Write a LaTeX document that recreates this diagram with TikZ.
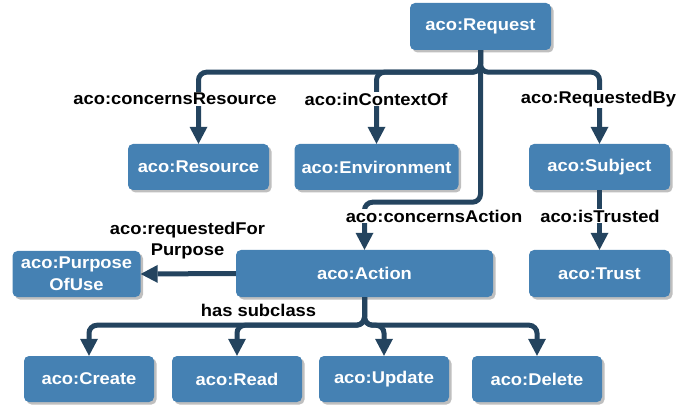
\documentclass[tikz,border=0pt]{standalone}
\usepackage{fontspec}
\setmainfont{Liberation Sans}[FakeStretch=1.08]
\usetikzlibrary{arrows.meta,shadows}
\definecolor{boxblue}{HTML}{4581B3}
\definecolor{arrowdark}{HTML}{24445F}
\begin{document}
\begin{tikzpicture}[x=1pt,y=-1pt,
  box/.style={draw=none, fill=boxblue, rounded corners=5pt, inner sep=0pt,
    text=white, font=\fontsize{17}{22}\selectfont\bfseries, align=center,
    drop shadow={shadow xshift=2.5pt, shadow yshift=-2.5pt, fill=black!25, opacity=1}},
  lab/.style={fill=white, inner sep=1pt, text=black, font=\fontsize{17}{21}\selectfont\bfseries, align=center},
  conn/.style={draw=arrowdark, line width=5pt, rounded corners=8pt,
    -{Triangle[width=18pt,length=17pt,line width=0pt]}}
]
\useasboundingbox (0,0) rectangle (691,406);

% nodes
\node[box, minimum width=141pt, minimum height=47pt] (req) at (480.5,26.5) {aco:Request};
\node[box, minimum width=141pt, minimum height=46pt] (res) at (198.5,167) {aco:Resource};
\node[box, minimum width=164pt, minimum height=46pt] (env) at (376.5,167) {aco:Environment};
\node[box, minimum width=141pt, minimum height=46pt] (sub) at (599.5,167) {aco:Subject};
\node[box, minimum width=257pt, minimum height=47pt] (act) at (364.5,273.5) {aco:Action};
\node[box, minimum width=141pt, minimum height=47pt] (trust) at (599.5,273.5) {aco:Trust};
\node[box, minimum width=128pt, minimum height=46pt] (pur) at (76.5,274) {aco:Purpose\\OfUse};
\node[box, minimum width=130pt, minimum height=46pt] (cre) at (89,379) {aco:Create};
\node[box, minimum width=130pt, minimum height=46pt] (rea) at (237,379) {aco:Read};
\node[box, minimum width=130pt, minimum height=46pt] (upd) at (384,379) {aco:Update};
\node[box, minimum width=130pt, minimum height=46pt] (del) at (537,379) {aco:Delete};

% connectors
\draw[conn] (req.south) -- ++(0,22) -| (res.north);
\draw[conn] (req.south) -- ++(0,22) -| (env.north);
\draw[conn] (req.south) -- ++(0,22) -| (sub.north);
\draw[conn] (req.south) -- ++(0,152) -| (act.north);
\draw[conn, rounded corners=0pt] (sub.south) -- (trust.north);
\draw[conn, rounded corners=0pt] (act.west) -- (pur.east);
\draw[conn] (act.south) -- ++(0,28) -| (cre.north);
\draw[conn] (act.south) -- ++(0,28) -| (rea.north);
\draw[conn] (act.south) -- ++(0,28) -| (upd.north);
\draw[conn] (act.south) -- ++(0,28) -| (del.north);

% labels
\node[lab] (l1) at (175,99) {aco:concernsResource};
\node[lab] (l2) at (376,99) {aco:inContextOf};
\node[lab] (l3) at (598.5,99) {aco:RequestedBy};
\node[lab] (l4) at (434,216) {aco:concernsAction};
\node[lab] (l5) at (600,216) {aco:isTrusted};
\node[lab, fill=none] (l6) at (187.5,240.5) {aco:requestedFor\\Purpose};
\node[lab, fill=none] (l7) at (258.5,310) {has subclass};
\end{tikzpicture}
\end{document}
